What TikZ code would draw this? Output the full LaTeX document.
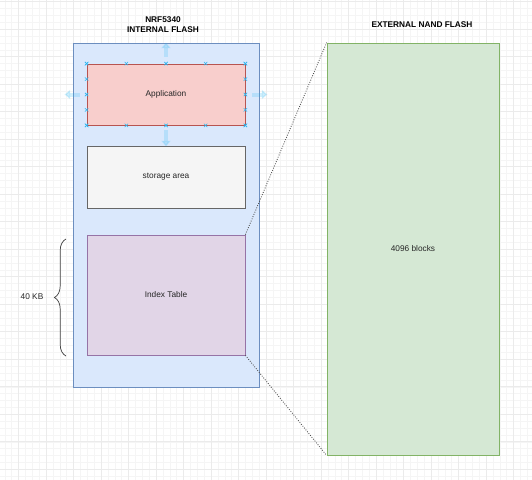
\documentclass[tikz,border=0pt]{standalone}
\usepackage{fontspec}
\setmainfont{Liberation Sans}
\usetikzlibrary{positioning,arrows.meta,shapes.misc,calc,decorations.pathreplacing}

\definecolor{flashfill}{HTML}{DAE8FC}
\definecolor{flashdraw}{HTML}{6C8EBF}
\definecolor{appfill}{HTML}{F8CECC}
\definecolor{appdraw}{HTML}{B85450}
\definecolor{storefill}{HTML}{F5F5F5}
\definecolor{storedraw}{HTML}{666666}
\definecolor{indexfill}{HTML}{E1D5E7}
\definecolor{indexdraw}{HTML}{9673A6}
\definecolor{nandfill}{HTML}{D5E8D4}
\definecolor{nanddraw}{HTML}{82B366}
\definecolor{hovercol}{HTML}{29B6F2}

\begin{document}
\begin{tikzpicture}[x=0.25mm, y=-0.25mm,
    every node/.style={font=\fontsize{5.9}{7}\selectfont, text=black!85},
    block/.style={rectangle, draw, line width=0.55pt, minimum width=39.5mm},
    title/.style={font=\fontsize{5.9}{6.6}\selectfont\bfseries, align=center, text=black},
    link/.style={line width=0.6pt, black!70, dash pattern=on 0.6pt off 1.1pt},
    hover/.style={-{Triangle[width=2.3mm,length=1.4mm]}, line width=1mm, hovercol, opacity=0.2},
    handle/.style={cross out, draw=hovercol, line width=0.4pt, minimum size=0.7mm, inner sep=0pt}
]

% Background grid
\useasboundingbox (0,0) rectangle (532,480);
\fill[white] (0,0) rectangle (532,480);
\begin{scope}
\clip (0,0) rectangle (532,480);
\draw[black!4, line width=0.3pt, step=1.71875mm, shift={(18.5,1.7)}] (-30,-10) grid (540,490);
\draw[black!8, line width=0.4pt, step=6.875mm, shift={(18.5,1.7)}] (-30,-10) grid (540,490);
\end{scope}

% Internal flash
\node[block, draw=flashdraw, fill=flashfill, minimum width=46.5mm, minimum height=86mm] (flash) at (166,215) {};
\node[title] (flashtitle) at (163,24.7) {NRF5340\\INTERNAL FLASH};

\node[block, draw=appdraw, fill=appfill, minimum height=15.25mm] (app) at (166,94.5) {Application};
\node[block, draw=storedraw, fill=storefill, minimum height=15.5mm] (storage) at (166,177) {storage area};
\node[block, draw=indexdraw, fill=indexfill, minimum height=30mm] (index) at (166,295) {Index Table};

% External flash
\node[block, draw=nanddraw, fill=nandfill, minimum width=43mm, minimum height=103mm] (nand) at (413,249) {4096 blocks};
\node[title] (nandtitle) at (422,24.7) {EXTERNAL NAND FLASH};

% Size of the index table
\draw[decorate, decoration={brace, amplitude=2.9mm}, line width=0.5pt, black!75] (66,356) -- (66,239);
\node (size) at (32,297) {40 KB};

% Index table maps onto the external flash
\draw[link] (index.north east) -- (nand.north west);
\draw[link] (index.south east) -- (nand.south west);

% Selection handles
\draw[hover] (app.north) ++(0,-7) -- ++(0,-14);
\draw[hover] (app.south) ++(0,5) -- ++(0,16);
\draw[hover] (app.west) ++(-7,0) -- ++(-15,0);
\draw[hover] (app.east) ++(7,0) -- ++(15,0);
\foreach \t [count=\k] in {0,0.25,0.5,0.75,1} {
  \node[handle] (htop\k) at ($(app.north west)!\t!(app.north east)$) {};
  \node[handle] (hbot\k) at ($(app.south west)!\t!(app.south east)$) {};
  \node[handle] (hleft\k) at ($(app.north west)!\t!(app.south west)$) {};
  \node[handle] (hright\k) at ($(app.north east)!\t!(app.south east)$) {};
}

\end{tikzpicture}
\end{document}
